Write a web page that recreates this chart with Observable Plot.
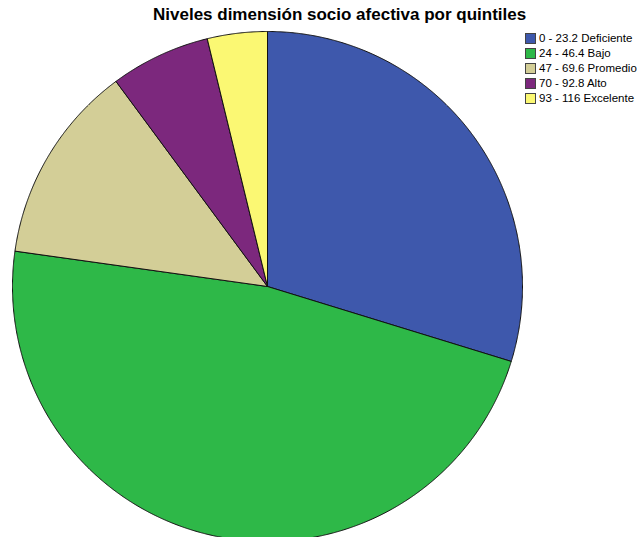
<!DOCTYPE html>
<html>
<head>
<meta charset="utf-8">
<script src="https://cdn.jsdelivr.net/npm/d3@7"></script>
<script src="https://cdn.jsdelivr.net/npm/@observablehq/plot@0.6"></script>
<style>
  html, body { margin: 0; padding: 0; background: #fff; }
  #wrap { position: relative; width: 643px; height: 537px; overflow: hidden; font-family: Arial, "Liberation Sans", sans-serif; }
  #title { position: absolute; left: 153px; top: 6px; font-size: 15px; font-weight: bold; color: #000; white-space: nowrap; line-height: 18px; }
  #legend { position: absolute; left: 525px; top: 33px; font-size: 11.5px; color: #000; }
  .row { position: absolute; left: 0; height: 12px; white-space: nowrap; }
  .sw { position: absolute; left: 0; top: 0; width: 9px; height: 9px; border: 1px solid #444; }
  .lb { position: absolute; left: 14px; top: -1px; line-height: 13px; }
  #chart { position: absolute; left: 0; top: 0; }
</style>
</head>
<body>
<div id="wrap">
  <div id="chart"></div>
  <div id="title">Niveles dimensión socio afectiva por quintiles</div>
  <div id="legend"></div>
</div>
<script>
const categories = ["0 - 23.2 Deficiente", "24 - 46.4 Bajo", "47 - 69.6 Promedio", "70 - 92.8 Alto", "93 - 116 Excelente"];
const counts = [47, 75, 20, 10, 6];
const colors = ["#3E58AC", "#2EB848", "#D3CE97", "#7C287D", "#FBF873"];

// Pie angles from the data (clockwise from 12 o'clock)
const arcs = d3.pie().sort(null).startAngle(0).endAngle(2 * Math.PI)(counts);
const pts = [];
arcs.forEach((a, i) => {
  const label = categories[i];
  pts.push({label, x: 0, y: 0});
  const steps = Math.max(2, Math.ceil((a.endAngle - a.startAngle) / (Math.PI / 720)));
  for (let k = 0; k <= steps; k++) {
    const t = a.startAngle + (a.endAngle - a.startAngle) * k / steps;
    pts.push({label, x: Math.sin(t), y: Math.cos(t)});
  }
  pts.push({label, x: 0, y: 0});
});

const plot = Plot.plot({
  width: 643,
  height: 537,
  marginLeft: 12,
  marginRight: 121,
  marginTop: 31,
  marginBottom: 0,
  x: {domain: [-1, 1], axis: null},
  y: {domain: [-0.98431, 1], axis: null},
  color: {domain: categories, range: colors},
  marks: [
    Plot.line(pts, {x: "x", y: "y", z: "label", fill: "label", stroke: "#111", strokeWidth: 1, strokeLinejoin: "round", curve: "linear"})
  ]
});
document.getElementById("chart").appendChild(plot);

// Fit title width to the reference (~390px)
const title = document.getElementById("title");
const w = title.getBoundingClientRect().width;
if (w > 0) {
  const fs = Math.max(14, Math.min(17, 15 * 390 / w));
  title.style.fontSize = fs + "px";
}

const legend = document.getElementById("legend");
categories.forEach((c, i) => {
  const row = document.createElement("div");
  row.className = "row";
  row.style.top = (i * 15) + "px";
  const sw = document.createElement("div");
  sw.className = "sw";
  sw.style.background = colors[i];
  const lb = document.createElement("div");
  lb.className = "lb";
  lb.textContent = c;
  row.appendChild(sw);
  row.appendChild(lb);
  legend.appendChild(row);
});
</script>
</body>
</html>
